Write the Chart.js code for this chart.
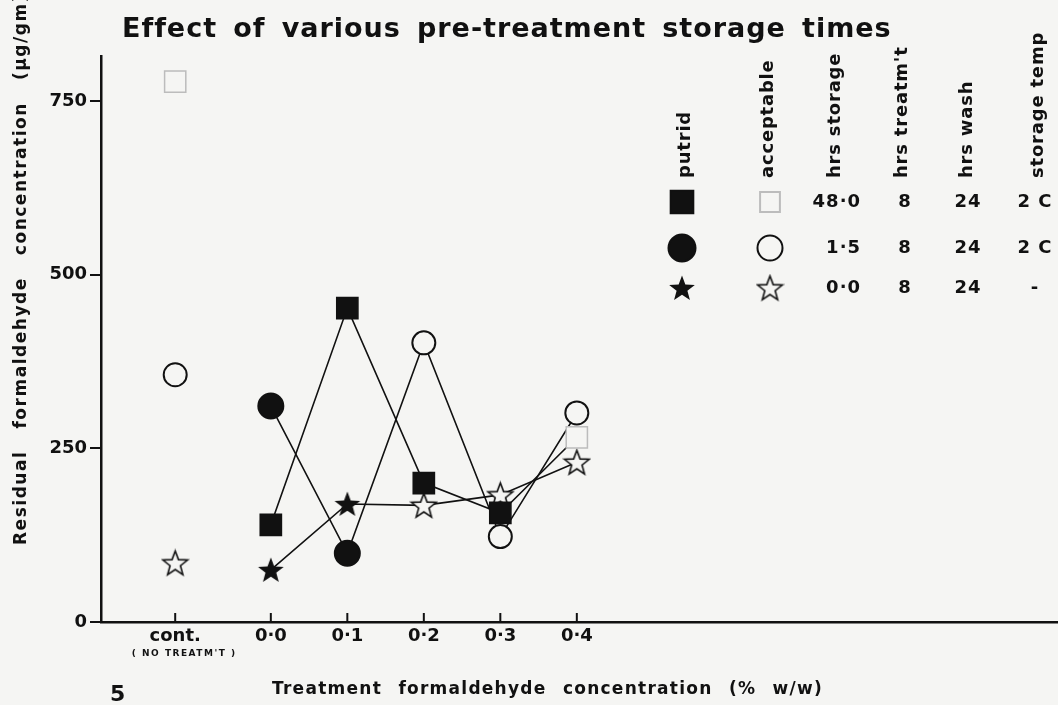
<!DOCTYPE html>
<html lang="en">
<head>
  <meta charset="UTF-8" />
  <title>Effect of various pre-treatment storage times</title>
  <script src="https://cdn.jsdelivr.net/npm/chart.js"></script>
  <style>
    body {
      margin: 0;
      padding: 0;
      background-color: #f5f5f3;
    }
    .wrap {
      width: 1058px;
      height: 705px;
    }
  </style>
</head>
<body>
  <div class="wrap"><canvas id="chart" width="1058" height="705"></canvas></div>

  <script>
    // treatment formaldehyde concentration (% w/w); control sits left of 0.0
    const controlX = -0.125;
    const concentrations = [0, 0.1, 0.2, 0.3, 0.4];
    const xTickValues = [-0.125, 0, 0.1, 0.2, 0.3, 0.4];
    const xTickLabels = ['cont.', '0·0', '0·1', '0·2', '0·3', '0·4'];
    const yTickValues = [0, 250, 500, 750];

    // residual formaldehyde (µg/gm), true = putrid, false = acceptable
    const storage48 = [140, 452, 200, 157, 266];
    const storage48Putrid = [true, true, true, true, false];
    const storage15 = [311, 99, 402, 123, 301];
    const storage15Putrid = [true, true, false, false, false];
    const storage0 = [75, 170, 168, 183, 230];
    const storage0Putrid = [true, true, false, false, false];

    // untreated controls (all acceptable)
    const control48 = 778;
    const control15 = 356;
    const control0 = 85;

    // legend table
    const legendHeads = ['putrid', 'acceptable', 'hrs storage', "hrs treatm't", 'hrs wash', 'storage temp'];
    const legendHours = ['48·0', '1·5', '0·0'];
    const legendTreat = ['8', '8', '8'];
    const legendWash = ['24', '24', '24'];
    const legendTemp = ['2 C', '2 C', '-'];

    const bg = '#f5f5f3';
    const ink = '#111111';
    const faint = '#bcbcbc';
    const font = 'DejaVu Sans';

    function makeStar(filled, size) {
      const c = document.createElement('canvas');
      c.width = c.height = size;
      const g = c.getContext('2d');
      const r = size / 2 - 1.5, ri = r * 0.42;
      const cx = size / 2, cy = size / 2 + r * 0.08;
      g.beginPath();
      for (let i = 0; i < 10; i++) {
        const a = -Math.PI / 2 + i * Math.PI / 5;
        const rr = i % 2 ? ri : r;
        g.lineTo(cx + rr * Math.cos(a), cy + rr * Math.sin(a));
      }
      g.closePath();
      if (filled) {
        g.fillStyle = ink;
        g.fill();
      } else {
        g.fillStyle = bg;
        g.fill();
        g.lineWidth = 1.6;
        g.strokeStyle = ink;
        g.stroke();
      }
      return c;
    }
    const starFilled = makeStar(true, 30);
    const starOpen = makeStar(false, 29);

    function points(vals) {
      return vals.map((v, i) => ({ x: concentrations[i], y: v }));
    }

    // stretch text to a target width, shared between letter and word gaps
    function spacedText(ctx, text, x, y, width, align) {
      ctx.save();
      const w0 = ctx.measureText(text).width;
      const gaps = text.split(' ').length - 1;
      const extra = width - w0;
      ctx.letterSpacing = (extra * 0.6 / text.length) + 'px';
      if (gaps > 0) ctx.wordSpacing = (extra * 0.4 / gaps) + 'px';
      ctx.textAlign = align;
      ctx.fillText(text, x, y);
      ctx.restore();
    }

    const annotations = {
      id: 'annotations',
      afterDraw(chart) {
        const ctx = chart.ctx;
        const xs = chart.scales.x;
        const bottom = chart.chartArea.bottom;
        ctx.save();
        ctx.fillStyle = ink;
        ctx.strokeStyle = ink;
        ctx.textBaseline = 'middle';

        // inward x ticks
        ctx.lineWidth = 2;
        xTickValues.forEach(v => {
          const px = xs.getPixelForValue(v);
          ctx.beginPath();
          ctx.moveTo(px, bottom);
          ctx.lineTo(px, bottom - 9);
          ctx.stroke();
        });

        // title
        ctx.font = 'bold 27px "' + font + '"';
        spacedText(ctx, 'Effect of various pre-treatment storage times', 122, 30, 768, 'left');

        // y axis title
        ctx.save();
        ctx.translate(22, 545);
        ctx.rotate(-Math.PI / 2);
        ctx.font = 'bold 17px "' + font + '"';
        spacedText(ctx, 'Residual formaldehyde concentration (µg/gm)', 0, 0, 552, 'left');
        ctx.restore();

        // x axis title
        ctx.font = 'bold 17px "' + font + '"';
        spacedText(ctx, 'Treatment formaldehyde concentration (% w/w)', 272, 690, 551, 'left');

        ctx.font = 'bold 22px "' + font + '"';
        ctx.textAlign = 'left';
        ctx.fillText('5', 110, 695);

        ctx.font = 'bold 9px "' + font + '"';
        ctx.save();
        ctx.letterSpacing = '1.5px';
        ctx.textAlign = 'center';
        ctx.fillText("( NO TREATM'T )", xs.getPixelForValue(controlX) + 9, 654);
        ctx.restore();

        // legend column heads
        const headX = [685, 768, 835, 902, 967, 1038];
        ctx.font = 'bold 18px "' + font + '"';
        legendHeads.forEach((h, i) => {
          ctx.save();
          ctx.letterSpacing = '0.8px';
          ctx.translate(headX[i], 178);
          ctx.rotate(-Math.PI / 2);
          ctx.textAlign = 'left';
          ctx.fillText(h, 0, 0);
          ctx.restore();
        });

        // legend rows
        const rowY = [202, 248, 288];
        const H = Chart.helpers;
        H.drawPoint(ctx, { pointStyle: 'rect', radius: 16, borderWidth: 1 }, 682, rowY[0]);
        ctx.save();
        ctx.fillStyle = bg;
        ctx.strokeStyle = faint;
        H.drawPoint(ctx, { pointStyle: 'rect', radius: 14, borderWidth: 1.2 }, 770, rowY[0]);
        ctx.restore();
        H.drawPoint(ctx, { pointStyle: 'circle', radius: 13.5, borderWidth: 1 }, 682, rowY[1]);
        ctx.save();
        ctx.fillStyle = bg;
        H.drawPoint(ctx, { pointStyle: 'circle', radius: 12.5, borderWidth: 2 }, 770, rowY[1]);
        ctx.restore();
        ctx.drawImage(starFilled, 682 - 15, rowY[2] - 15);
        ctx.drawImage(starOpen, 770 - 14.5, rowY[2] - 14.5);

        ctx.font = 'bold 18px "' + font + '"';
        ctx.letterSpacing = '1px';
        rowY.forEach((y, i) => {
          ctx.textAlign = 'right';
          ctx.fillText(legendHours[i], 861, y);
          ctx.textAlign = 'center';
          ctx.fillText(legendTreat[i], 905, y);
          ctx.fillText(legendWash[i], 968, y);
          ctx.fillText(legendTemp[i], 1035, y);
        });
        ctx.restore();
      }
    };

    new Chart(document.getElementById('chart'), {
      type: 'scatter',
      data: {
        datasets: [
          {
            label: '48·0 hrs storage',
            data: points(storage48),
            showLine: true,
            borderColor: ink,
            borderWidth: 1.6,
            pointStyle: 'rect',
            pointRadius: 15,
            pointBorderWidth: 1.5,
            pointBackgroundColor: storage48Putrid.map(p => p ? ink : bg),
            pointBorderColor: storage48Putrid.map(p => p ? ink : faint)
          },
          {
            label: '1·5 hrs storage',
            data: points(storage15),
            showLine: true,
            borderColor: ink,
            borderWidth: 1.6,
            pointStyle: 'circle',
            pointRadius: storage15Putrid.map(p => p ? 12.5 : 11.5),
            pointBorderWidth: 2,
            pointBackgroundColor: storage15Putrid.map(p => p ? ink : bg),
            pointBorderColor: ink
          },
          {
            label: '0·0 hrs storage',
            data: points(storage0),
            showLine: true,
            borderColor: ink,
            borderWidth: 1.6,
            pointStyle: storage0Putrid.map(p => p ? starFilled : starOpen),
            pointRadius: 13
          },
          {
            label: 'control 48·0',
            data: [{ x: controlX, y: control48 }],
            pointStyle: 'rect',
            pointRadius: 15,
            pointBorderWidth: 1.5,
            pointBackgroundColor: bg,
            pointBorderColor: faint
          },
          {
            label: 'control 1·5',
            data: [{ x: controlX, y: control15 }],
            pointStyle: 'circle',
            pointRadius: 11.5,
            pointBorderWidth: 2,
            pointBackgroundColor: bg,
            pointBorderColor: ink
          },
          {
            label: 'control 0·0',
            data: [{ x: controlX, y: control0 }],
            pointStyle: starOpen,
            pointRadius: 13
          }
        ]
      },
      options: {
        responsive: false,
        animation: false,
        devicePixelRatio: 1,
        layout: { autoPadding: false, padding: { top: 56, right: 0, left: 0, bottom: 0 } },
        plugins: {
          legend: { display: false },
          tooltip: { enabled: false }
        },
        scales: {
          x: {
            type: 'linear',
            min: -0.222,
            max: 1.029,
            afterBuildTicks: s => { s.ticks = xTickValues.map(v => ({ value: v })); },
            afterFit: s => { s.height = 83; s.paddingLeft = 0; s.paddingRight = 0; },
            ticks: {
              autoSkip: false,
              maxRotation: 0,
              padding: 4,
              color: ink,
              font: { family: font, size: 18, weight: 'bold' },
              callback: (v, i) => xTickLabels[i]
            },
            grid: { drawOnChartArea: false, drawTicks: false },
            border: { display: true, color: ink, width: 2.5 }
          },
          y: {
            min: 0,
            max: 815,
            afterBuildTicks: s => { s.ticks = yTickValues.map(v => ({ value: v })); },
            afterFit: s => { s.width = 101; s.paddingTop = 0; s.paddingBottom = 0; },
            ticks: {
              padding: 3,
              color: ink,
              font: { family: font, size: 18, weight: 'bold' },
              callback: v => String(v)
            },
            grid: { drawOnChartArea: false, tickLength: 11, color: ink, lineWidth: 2 },
            border: { display: true, color: ink, width: 2.5 }
          }
        }
      },
      plugins: [annotations]
    });
  </script>
</body>
</html>
